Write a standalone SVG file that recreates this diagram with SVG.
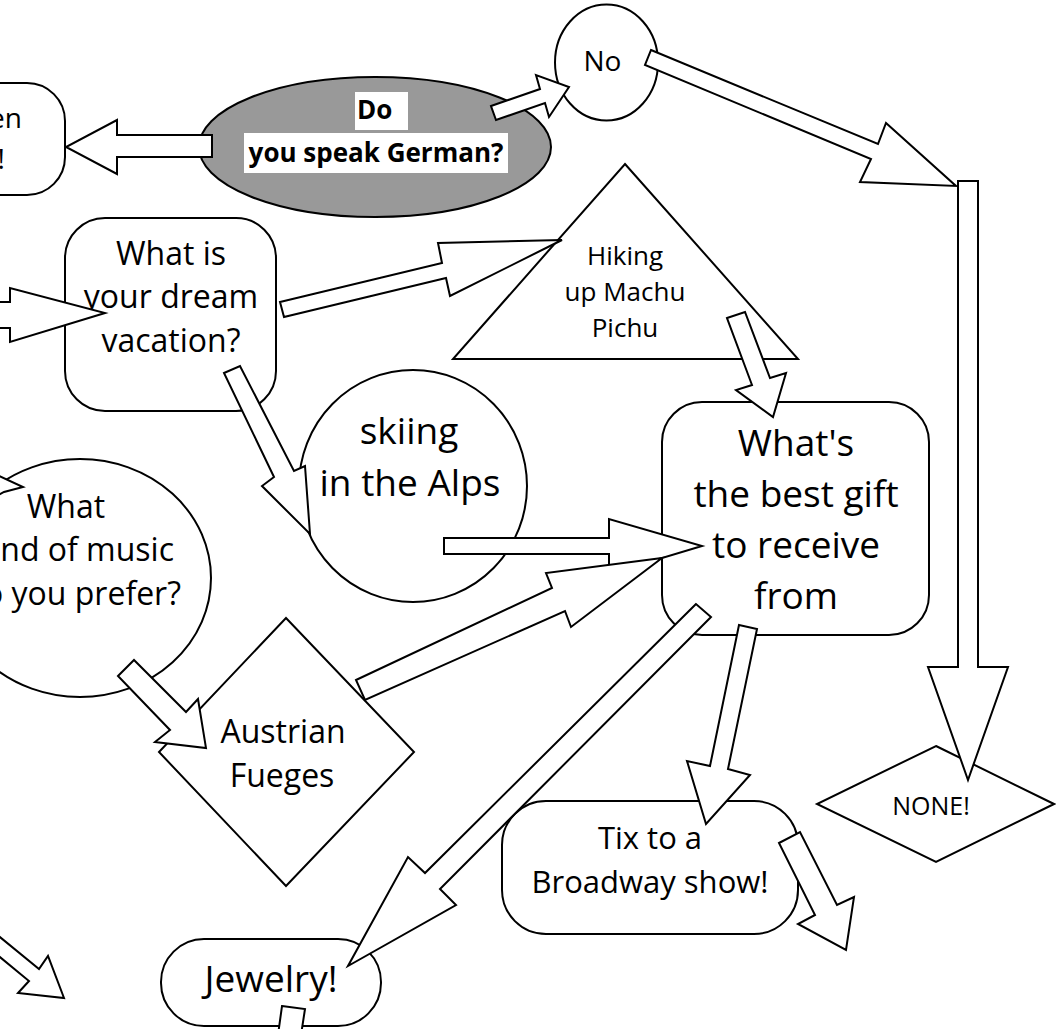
<svg xmlns="http://www.w3.org/2000/svg" width="1056" height="1029" viewBox="0 0 1056 1029">
<style>
.shape{fill:#fff;stroke:#000;stroke-width:2}
.gray{fill:#999;stroke:#000;stroke-width:2}
.arrow{fill:#fff;stroke:#000;stroke-width:2;stroke-linejoin:miter}
text{font-family:"Open Sans","Noto Sans","DejaVu Sans",sans-serif;fill:#000}
.c{text-anchor:middle}
.e{text-anchor:end}
.hl{fill:#fff}
.b{font-weight:bold}
</style>
<rect width="1056" height="1029" fill="#fff"/>
<g id="node-then">
 <rect class="shape" x="-100" y="83" width="165" height="112" rx="38"/>
 <text class="e" x="22" y="128" font-size="28">en</text>
 <text class="e" x="5" y="169" font-size="28">!</text>
</g>
<g id="node-german">
 <ellipse class="gray" cx="375" cy="147" rx="176" ry="70"/>
 <rect class="hl" x="355" y="92" width="53" height="38"/>
 <rect class="hl" x="244" y="133" width="264" height="40"/>
 <text class="b" x="357" y="119" font-size="26">Do</text>
 <text class="b c" x="376" y="162" font-size="26">you speak German?</text>
</g>
<g id="node-no">
 <ellipse class="shape" cx="606.5" cy="62.5" rx="51.5" ry="58"/>
 <text class="c" x="602.5" y="71" font-size="28">No</text>
</g>
<g id="node-dream">
 <rect class="shape" x="65" y="218" width="211" height="193" rx="40"/>
 <text class="c" x="171" y="265" font-size="32">What is</text>
 <text class="c" x="171" y="308" font-size="32">your dream</text>
 <text class="c" x="171" y="352" font-size="32">vacation?</text>
</g>
<g id="node-hiking">
 <polygon class="shape" points="625,164 798,359 453,359"/>
 <text class="c" x="625" y="265" font-size="26">Hiking</text>
 <text class="c" x="625" y="301" font-size="26">up Machu</text>
 <text class="c" x="625" y="337" font-size="26">Pichu</text>
</g>
<g id="node-skiing">
 <ellipse class="shape" cx="413" cy="486" rx="114" ry="116"/>
 <text class="c" x="409" y="444" font-size="37">skiing</text>
 <text class="c" x="410" y="496" font-size="37">in the Alps</text>
</g>
<g id="node-gift">
 <rect class="shape" x="662" y="402" width="267" height="233" rx="40"/>
 <text class="c" x="796" y="456" font-size="37">What's</text>
 <text class="c" x="796" y="507" font-size="37">the best gift</text>
 <text class="c" x="796" y="558" font-size="37">to receive</text>
 <text class="c" x="796" y="609" font-size="37">from</text>
</g>
<g id="node-music">
 <ellipse class="shape" cx="80" cy="578" rx="131" ry="119"/>
 <text class="c" x="66" y="518" font-size="32">What</text>
 <text class="e" x="174" y="561" font-size="32">nd of music</text>
 <text class="e" x="181" y="605" font-size="32">o you prefer?</text>
</g>
<g id="node-austrian">
 <polygon class="shape" points="286,618 414,752 286,886 159,752"/>
 <text class="c" x="283" y="743" font-size="32">Austrian</text>
 <text class="c" x="282" y="787" font-size="32">Fueges</text>
</g>
<g id="node-tix">
 <rect class="shape" x="502" y="801" width="296" height="133" rx="44"/>
 <text class="c" x="650" y="849" font-size="31">Tix to a</text>
 <text class="c" x="650" y="893" font-size="31">Broadway show!</text>
</g>
<g id="node-jewelry">
 <rect class="shape" x="161" y="939" width="220" height="87" rx="43"/>
 <text class="c" x="271" y="992" font-size="37">Jewelry!</text>
</g>
<g id="node-none">
 <polygon class="shape" points="936,746 1054,804 936,862 817,804"/>
 <text class="c" x="931" y="815" font-size="25">NONE!</text>
</g>
<g id="connectors">
 <polygon class="arrow" points="212,135 117,135 117,120 66,147 117,174 117,157 212,157"/>
 <polygon class="arrow" points="491,106 540,89 536,75 569,87 549,117 545,103 496,120"/>
 <polygon class="arrow" points="651,50 878,144 886,123 956,186 860,182 871,159 645,65"/>
 <polygon class="arrow" points="958,181 978,181 978,667 1008,667 968,780 928,667 958,667"/>
 <polygon class="arrow" points="-5,302 10,302 10,288 105,313 10,342 10,328 -5,328"/>
 <polygon class="arrow" points="280,302 442,263 438,243 562,240 450,296 446,278 284,317"/>
 <polygon class="arrow" points="224,373 240,366 294,471 305,466 310,534 262,486 274,477"/>
 <polygon class="arrow" points="727,318 745,312 770,378 786,373 773,417 736,390 752,385"/>
 <polygon class="arrow" points="444,538 609,538 609,519 702,546 609,574 609,554 444,554"/>
 <polygon class="arrow" points="356,680 552,588 546,573 662,558 571,627 565,611 365,700"/>
 <polygon class="arrow" points="696,604 425,873 408,857 348,966 456,905 440,889 711,617"/>
 <polygon class="arrow" points="739,625 757,629 728,769 750,775 706,824 687,761 710,766"/>
 <polygon class="arrow" points="779,843 800,832 837,905 854,897 846,950 798,924 815,915"/>
 <polygon class="arrow" points="118,676 134,660 186,712 198,699 206,748 155,742 170,730"/>
 <polygon class="arrow" points="282,1006 305,1009 301,1035 278,1035"/>
 <polygon class="arrow" points="-5,933 39,969 48,956 64,998 18,993 29,981 -5,953"/>
 <polygon class="arrow" points="-5,474 23,487 4,492 -5,497"/>
</g>
</svg>
